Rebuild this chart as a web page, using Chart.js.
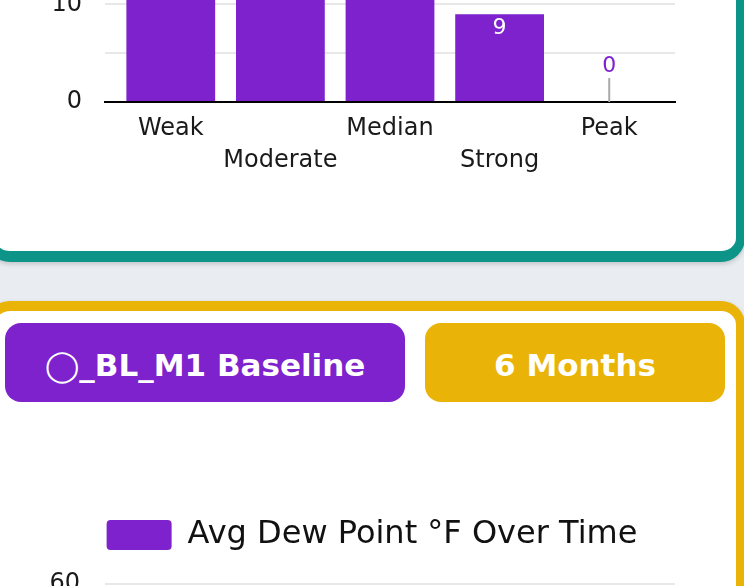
<!DOCTYPE html>
<html><head><meta charset="utf-8">
<script src="https://cdn.jsdelivr.net/npm/chart.js@4"></script>
<style>
html,body{margin:0;padding:0;}
body{width:744px;height:586px;overflow:hidden;position:relative;background:#e9edf1;font-family:'DejaVu Sans',sans-serif;}
.card{position:absolute;box-sizing:border-box;background:#fff;border-radius:24px;box-shadow:0 2px 5px rgba(0,0,0,.18);}
#card1{left:-14px;width:759px;top:-420px;height:682px;border:9px solid #0d9488;border-bottom-width:11px;}
#card2{left:-14px;width:759px;top:301px;height:420px;border:9px solid #eab308;border-top-width:10px;}
.btn{position:absolute;top:323px;height:79px;box-sizing:border-box;padding-top:4px;border-radius:16px;color:#fff;font:bold 31px 'DejaVu Sans',sans-serif;display:flex;align-items:center;justify-content:center;white-space:nowrap;}
#btnA{left:5px;width:400px;background:#7e22ce;}
#btnB{left:425px;width:300px;background:#eab308;}
.wrap{position:absolute;left:0;width:744px;}
#w1{top:-228px;height:416px;}
#w2{top:509px;height:580px;}
</style>
</head>
<body>
<div class="card" id="card1"></div>
<div class="card" id="card2"></div>
<div class="btn" id="btnA">◯_BL_M1 Baseline</div>
<div class="btn" id="btnB">6 Months</div>
<div class="wrap" id="w1"><canvas id="c1"></canvas></div>
<div class="wrap" id="w2"><canvas id="c2"></canvas></div>
<script>
// ---- data ----
const categories = ['Weak', 'Moderate', 'Median', 'Strong', 'Peak'];
const strengthCounts = [23, 26, 20, 9, 0];
const strengthMax = 30;
const strengthTickStep = 5;
const strengthLabelEvery = 10;

const months = ['Month 1', 'Month 2', 'Month 3', 'Month 4', 'Month 5', 'Month 6'];
const dewPoints = [50, 53, 55, 52, 48, 44];
const dewMax = 60;
const dewTickStep = 10;
const dewLabel = 'Avg Dew Point °F Over Time';

// ---- style ----
const PURPLE = '#7e22ce';
const X_EDGE = 0.1;

Chart.defaults.font.family = "'DejaVu Sans', sans-serif";
Chart.defaults.color = '#1a1a1a';
Chart.defaults.animation = false;

const valueLabels = {
  id: 'valueLabels',
  afterDatasetsDraw(chart, args, o) {
    const {ctx} = chart;
    const ds = chart.data.datasets[0];
    const meta = chart.getDatasetMeta(0);
    ctx.save();
    ctx.font = o.size + "px 'DejaVu Sans', sans-serif";
    ctx.textAlign = 'center';
    ctx.textBaseline = 'middle';
    meta.data.forEach((bar, i) => {
      const v = ds.data[i];
      if (v > 0) {
        ctx.fillStyle = '#ffffff';
        ctx.fillText(String(v), bar.x, bar.y + o.inset);
      } else {
        ctx.strokeStyle = '#aaaaaa';
        ctx.lineWidth = 2;
        ctx.beginPath();
        ctx.moveTo(bar.x, bar.base);
        ctx.lineTo(bar.x, bar.base - o.leader);
        ctx.stroke();
        ctx.fillStyle = PURPLE;
        ctx.fillText(String(v), bar.x, bar.base - o.leader - 12);
      }
    });
    ctx.restore();
  }
};

// extra space between legend and plot area
const legendGap = {
  id: 'legendGap',
  beforeInit(chart, args, o) {
    if (!chart.legend) return;
    const fit = chart.legend.fit;
    chart.legend.fit = function () { fit.call(this); this.height += o.gap; };
  }
};

function widenX(s) { s._startValue -= X_EDGE; s._valueRange += 2 * X_EDGE; }

function staggered(v, i) {
  const l = this.getLabelForValue(v);
  return i % 2 ? ['', l] : l;
}

new Chart(document.getElementById('c1'), {
  type: 'bar',
  data: {
    labels: categories,
    datasets: [{ label: 'Strength', data: strengthCounts, backgroundColor: PURPLE, borderWidth: 0,
                 categoryPercentage: 0.9, barPercentage: 0.9 }]
  },
  plugins: [valueLabels],
  options: {
    responsive: true, maintainAspectRatio: false, animation: false,
    layout: { padding: { left: 0, right: 69, top: 0, bottom: 0 } },
    plugins: { legend: { display: false }, tooltip: { enabled: false },
               valueLabels: { size: 22, inset: 14, leader: 24 } },
    scales: {
      x: {
        grid: { display: false, drawTicks: false },
        border: { display: true, color: '#000000', width: 2 },
        ticks: { padding: 11, autoSkip: false, maxRotation: 0, font: { size: 24, lineHeight: 1.333 }, callback: staggered },
        afterBuildTicks: widenX
      },
      y: {
        min: 0, max: strengthMax,
        afterFit: s => { s.width = 105; },
        grid: { color: '#e8e8e8', lineWidth: 2, drawTicks: false },
        border: { display: false },
        ticks: { stepSize: strengthTickStep, padding: 23, font: { size: 24 },
                 callback: v => (v % strengthLabelEvery === 0 ? v : '') }
      }
    }
  }
});

new Chart(document.getElementById('c2'), {
  type: 'bar',
  data: {
    labels: months,
    datasets: [{ label: dewLabel, data: dewPoints, backgroundColor: PURPLE, borderWidth: 0,
                 categoryPercentage: 0.9, barPercentage: 0.9 }]
  },
  plugins: [valueLabels, legendGap],
  options: {
    responsive: true, maintainAspectRatio: false, animation: false,
    plugins: {
      tooltip: { enabled: false },
      valueLabels: { size: 22, inset: 14, leader: 24 },
      legendGap: { gap: 23 },
      legend: { display: true, position: 'top',
        labels: { boxWidth: 65, boxHeight: 30, useBorderRadius: true, borderRadius: 4,
                  font: { size: 32 }, color: '#111111', padding: 10 } }
    },
    scales: {
      x: {
        grid: { display: false, drawTicks: false },
        border: { display: true, color: '#000000', width: 2 },
        ticks: { padding: 11, autoSkip: false, maxRotation: 0, font: { size: 24, lineHeight: 1.333 }, callback: staggered },
        afterBuildTicks: widenX
      },
      y: {
        min: 0, max: dewMax,
        afterFit: s => { s.width = 105; },
        grid: { color: '#e8e8e8', lineWidth: 2, drawTicks: false },
        border: { display: false },
        ticks: { stepSize: dewTickStep, padding: 25, font: { size: 24 } }
      },
      yPad: {
        position: 'right', display: true,
        afterFit: s => { s.width = 69; },
        grid: { display: false, drawTicks: false },
        border: { display: false },
        ticks: { display: false }
      }
    }
  }
});
</script>
</body></html>
